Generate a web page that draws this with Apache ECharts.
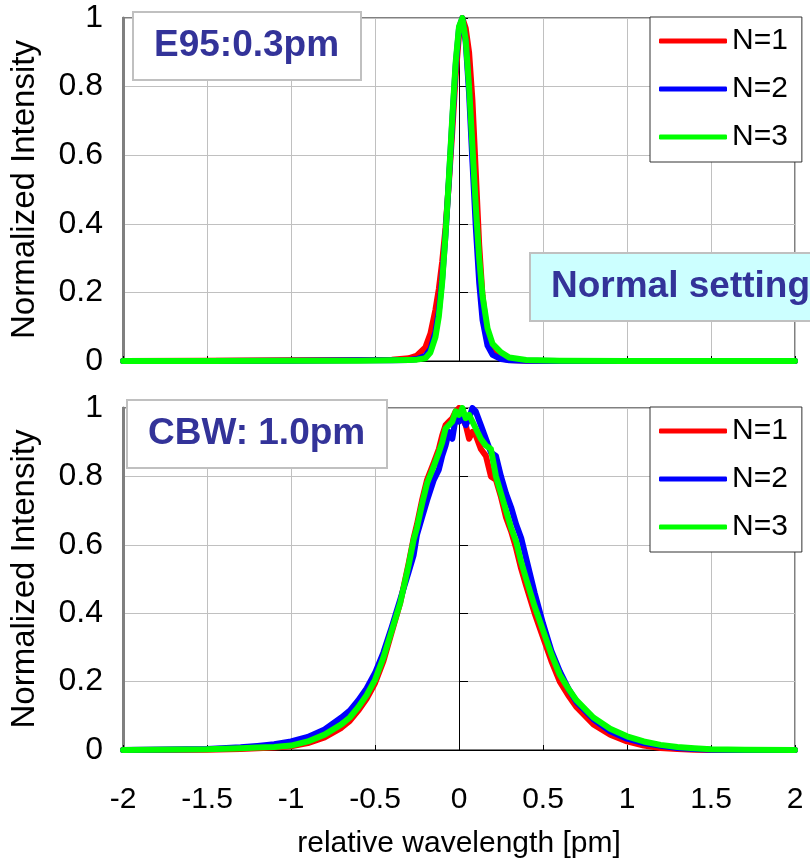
<!DOCTYPE html>
<html lang="en">
<head>
    <meta charset="UTF-8">
    <title>Normalized Intensity</title>
    <script src="https://cdn.jsdelivr.net/npm/echarts@6/dist/echarts.min.js"></script>
    <style>
        html, body { margin: 0; padding: 0; background: #fff; }
        #chart { width: 810px; height: 860px; }
    </style>
</head>
<body>
<div id="chart"></div>
<script type="text/javascript">
    // series names
    var names = ['N=1', 'N=2', 'N=3'];
    var colors = ['#ff0000', '#0000ff', '#00ff00'];

    // upper plot (E95 0.3pm) - relative wavelength [pm]
    var xTop = [-2, -1.5, -1, -0.6, -0.4, -0.3, -0.25, -0.2, -0.17, -0.14, -0.12, -0.1, -0.08, -0.06, -0.04, -0.02,
        0, 0.02, 0.04, 0.06, 0.08, 0.1, 0.12, 0.14, 0.17, 0.2, 0.25, 0.3, 0.4, 0.6, 1, 1.5, 2];
    var topN1 = [0, 0.001, 0.002, 0.003, 0.004, 0.008, 0.016, 0.04, 0.08, 0.15, 0.21, 0.29, 0.39, 0.52, 0.67, 0.83,
        0.95, 1.0, 0.97, 0.9, 0.76, 0.55, 0.34, 0.19, 0.07, 0.025, 0.008, 0.003, 0.001, 0, 0, 0, 0];
    var topN2 = [0, 0, 0.001, 0.002, 0.002, 0.003, 0.006, 0.015, 0.035, 0.085, 0.145, 0.24, 0.37, 0.53, 0.70, 0.86,
        0.97, 1.0, 0.93, 0.78, 0.58, 0.39, 0.23, 0.12, 0.045, 0.018, 0.006, 0.002, 0.001, 0, 0, 0, 0];
    var topN3 = [0, 0, 0.001, 0.001, 0.002, 0.003, 0.004, 0.008, 0.025, 0.07, 0.13, 0.23, 0.37, 0.535, 0.71, 0.87,
        0.975, 1.0, 0.935, 0.80, 0.625, 0.45, 0.30, 0.19, 0.095, 0.05, 0.025, 0.01, 0.003, 0.001, 0, 0, 0];

    // lower plot (CBW 1.0pm)
    var xBot = [-2, -1.5, -1.3, -1.2, -1.1, -1.0, -0.9, -0.8, -0.7, -0.65,
        -0.6, -0.55, -0.5, -0.45, -0.4, -0.35, -0.3, -0.27, -0.25, -0.22,
        -0.19, -0.15, -0.12, -0.1, -0.08, -0.06, -0.04, -0.02, 0, 0.02,
        0.04, 0.06, 0.08, 0.1, 0.13, 0.16, 0.19, 0.22, 0.25, 0.28,
        0.31, 0.34, 0.37, 0.4, 0.45, 0.5, 0.55, 0.6, 0.65, 0.7,
        0.8, 0.9, 1.0, 1.1, 1.2, 1.3, 1.4, 1.5, 1.7, 2];
    var botN1 = [0, 0.001, 0.003, 0.005, 0.007, 0.011, 0.02, 0.037, 0.065, 0.085,
        0.115, 0.15, 0.195, 0.26, 0.345, 0.43, 0.545, 0.62, 0.66, 0.73,
        0.79, 0.84, 0.88, 0.92, 0.95, 0.96, 0.97, 0.99, 1.0, 0.97,
        0.95, 0.91, 0.93, 0.92, 0.88, 0.86, 0.80, 0.79, 0.74, 0.68,
        0.64, 0.59, 0.53, 0.48, 0.40, 0.33, 0.26, 0.20, 0.16, 0.125,
        0.075, 0.045, 0.025, 0.013, 0.006, 0.003, 0.001, 0, 0, 0];
    var botN2 = [0, 0.003, 0.008, 0.012, 0.017, 0.025, 0.038, 0.06, 0.095, 0.115,
        0.145, 0.18, 0.225, 0.285, 0.36, 0.44, 0.52, 0.57, 0.63, 0.68,
        0.73, 0.79, 0.82, 0.86, 0.89, 0.93, 0.91, 0.97, 0.96, 0.98,
        0.95, 0.97, 1.0, 0.99, 0.95, 0.91, 0.87, 0.86, 0.80, 0.75,
        0.71, 0.66, 0.62, 0.56, 0.46, 0.37, 0.29, 0.23, 0.18, 0.14,
        0.09, 0.055, 0.033, 0.02, 0.012, 0.006, 0.003, 0.001, 0, 0];
    var botN3 = [0, 0.002, 0.005, 0.007, 0.009, 0.013, 0.025, 0.045, 0.075, 0.095,
        0.125, 0.16, 0.205, 0.27, 0.35, 0.43, 0.54, 0.615, 0.65, 0.72,
        0.78, 0.83, 0.87, 0.90, 0.94, 0.95, 0.96, 0.99, 0.98, 1.0,
        0.97, 0.98, 0.96, 0.94, 0.91, 0.89, 0.88, 0.80, 0.75, 0.70,
        0.65, 0.61, 0.55, 0.50, 0.42, 0.35, 0.28, 0.22, 0.18, 0.145,
        0.095, 0.062, 0.04, 0.025, 0.015, 0.009, 0.005, 0.002, 0.001, 0];

    var FONT = "'Liberation Sans', Arial, sans-serif";

    function pairs(xs, ys) {
        return xs.map(function (x, i) { return [x, ys[i]]; });
    }

    function lineSeries(name, color, xi, yi, data) {
        return {
            name: name,
            type: 'line',
            xAxisIndex: xi,
            yAxisIndex: yi,
            data: data,
            showSymbol: false,
            color: color,
            lineStyle: { width: 6, color: color, cap: 'round', join: 'round' }
        };
    }

    function xAx(gridIndex, showLabels) {
        return {
            type: 'value', gridIndex: gridIndex, min: -2, max: 2, interval: 0.5,
            name: showLabels ? 'relative wavelength [pm]' : '',
            nameLocation: 'middle', nameGap: 79,
            nameTextStyle: { fontFamily: FONT, fontSize: 30, color: '#000' },
            axisLine: { lineStyle: { color: '#000', width: 1 } },
            axisTick: { show: true, inside: true, length: 5, lineStyle: { color: '#000' } },
            axisLabel: { show: showLabels, fontFamily: FONT, fontSize: 30, color: '#000', margin: 35 },
            splitLine: { show: true, lineStyle: { color: '#c0c0c0', width: 1 } }
        };
    }

    function yMain(gridIndex) {
        return {
            type: 'value', gridIndex: gridIndex, min: 0, max: 1, interval: 0.2, position: 'left',
            name: 'Normalized Intensity', nameLocation: 'middle', nameRotate: 90, nameGap: 82,
            nameTextStyle: { fontFamily: FONT, fontSize: 33, color: '#000' },
            axisLine: { show: true, onZero: false, lineStyle: { color: '#808080', width: 3 } },
            axisTick: { show: false },
            axisLabel: { fontFamily: FONT, fontSize: 32, color: '#000', margin: 20 },
            splitLine: { show: true, lineStyle: { color: '#c0c0c0', width: 1 } }
        };
    }

    // axis drawn on x = 0
    function yZero(gridIndex) {
        return {
            type: 'value', gridIndex: gridIndex, min: 0, max: 1, interval: 0.2, position: 'left',
            axisLine: { show: true, onZero: true, lineStyle: { color: '#000', width: 1 } },
            axisTick: { show: true, inside: true, length: 9, lineStyle: { color: '#000' } },
            axisLabel: { show: false },
            splitLine: { show: false }
        };
    }

    function legendAt(top) {
        return {
            orient: 'vertical', left: 650, top: top,
            data: names,
            icon: 'roundRect', itemWidth: 68, itemHeight: 5, itemGap: 18,
            padding: [9, 14, 10, 9],
            backgroundColor: '#fff', borderColor: '#333', borderWidth: 1,
            textStyle: { fontFamily: FONT, fontSize: 30, color: '#000', lineHeight: 28 },
            selectedMode: false
        };
    }

    function boxTitle(text, left, top, bg) {
        return {
            text: text, left: left, top: top,
            padding: [15, 22, 16, 21],
            backgroundColor: bg, borderColor: '#c0c0c0', borderWidth: 2,
            textStyle: { fontFamily: FONT, fontSize: 37, fontWeight: 'bold', color: '#333399', lineHeight: 37 }
        };
    }

    var myChart = echarts.init(document.getElementById('chart'), null, { renderer: 'canvas' });

    var series = [];
    var tops = [topN1, topN2, topN3];
    var bots = [botN1, botN2, botN3];
    for (var i = 0; i < 3; i++) {
        series.push(lineSeries(names[i], colors[i], 0, 0, pairs(xTop, tops[i])));
    }
    for (var j = 0; j < 3; j++) {
        series.push(lineSeries(names[j], colors[j], 1, 2, pairs(xBot, bots[j])));
    }

    var option = {
        animation: false,
        backgroundColor: '#fff',
        title: [
            boxTitle('E95:0.3pm', 133, 12, '#fff'),
            boxTitle('CBW: 1.0pm', 127, 400, '#fff'),
            boxTitle('Normal setting', 530, 253, '#ccffff')
        ],
        legend: [legendAt(17), legendAt(407)],
        grid: [
            { left: 123, top: 18, width: 672, height: 343, show: true, borderColor: '#808080', borderWidth: 2,
                backgroundColor: '#fff', containLabel: false, outerBoundsMode: 'none' },
            { left: 123, top: 408, width: 672, height: 342, show: true, borderColor: '#808080', borderWidth: 2,
                backgroundColor: '#fff', containLabel: false, outerBoundsMode: 'none' }
        ],
        xAxis: [xAx(0, false), xAx(1, true)],
        yAxis: [yMain(0), yZero(0), yMain(1), yZero(1)],
        series: series
    };

    myChart.setOption(option);
</script>
</body>
</html>
